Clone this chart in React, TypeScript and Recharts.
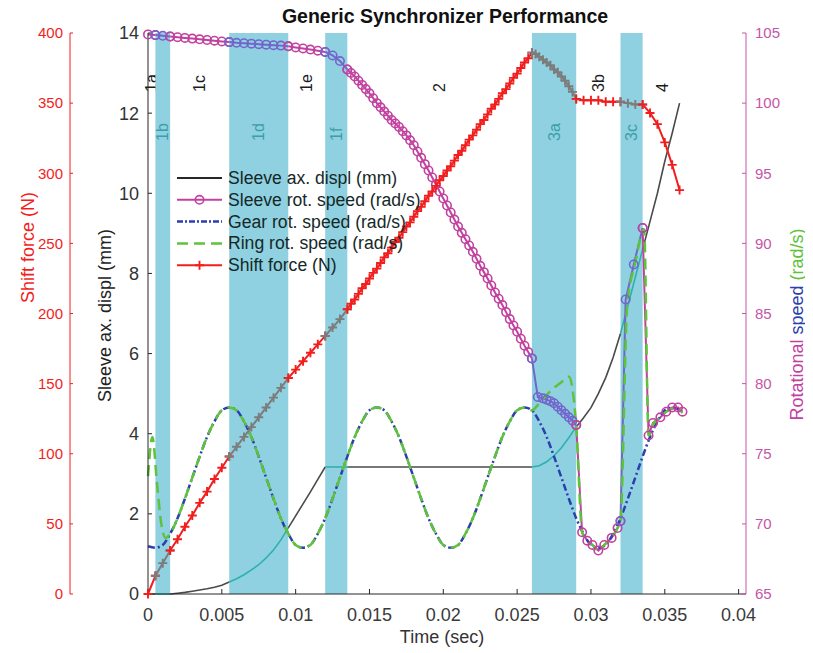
import { LineChart, Line, XAxis, YAxis, ReferenceArea, Legend } from 'recharts';

type Pt = [number, number];

// phases of the shift event; edges in seconds
const phaseNames = ['1a', '1b', '1c', '1d', '1e', '1f', '2', '3a', '3b', '3c', '4'];
const phaseEdges = [0, 0.0005, 0.0015, 0.0055, 0.0095, 0.012, 0.0135, 0.026, 0.029, 0.032, 0.0335, 0.0362];
const shadedPhases = ['1b', '1d', '1f', '3a', '3c'];

const timeTicks = [0, 0.005, 0.01, 0.015, 0.02, 0.025, 0.03, 0.035, 0.04];
const displTicks = [0, 2, 4, 6, 8, 10, 12, 14];
const forceTicks = [0, 50, 100, 150, 200, 250, 300, 350, 400];
const speedTicks = [65, 70, 75, 80, 85, 90, 95, 100, 105];

const seriesNames = [
    'Sleeve ax. displ (mm)',
    'Sleeve rot. speed (rad/s)',
    'Gear rot. speed (rad/s)',
    'Ring rot. speed (rad/s)',
    'Shift force (N)',
];

// [time (s), displacement (mm)]
const sleeveDispl: Pt[] = [
    [0, 0], [0.0005, 0], [0.001, 0], [0.0015, 0], [0.002, 0.02], [0.0025, 0.04], [0.003, 0.07],
    [0.0035, 0.1], [0.004, 0.13], [0.0045, 0.17], [0.005, 0.22], [0.0055, 0.3], [0.006, 0.38],
    [0.0065, 0.48], [0.007, 0.6], [0.0075, 0.73], [0.008, 0.9], [0.0085, 1.1], [0.009, 1.35],
    [0.0095, 1.65], [0.01, 1.95], [0.0105, 2.25], [0.011, 2.55], [0.0115, 2.86], [0.012, 3.17],
    [0.0135, 3.17], [0.026, 3.17], [0.0265, 3.2], [0.027, 3.3], [0.0275, 3.45], [0.028, 3.65],
    [0.0285, 3.9], [0.029, 4.17], [0.0295, 4.4], [0.03, 4.65], [0.0305, 5.0], [0.031, 5.4],
    [0.0315, 5.9], [0.032, 6.5], [0.0325, 7.2], [0.033, 7.9], [0.0335, 8.6], [0.034, 9.3],
    [0.0345, 10.0], [0.035, 10.8], [0.0355, 11.5], [0.036, 12.25],
];

// [time (s), rad/s]
const sleeveSpeed: Pt[] = [
    [0, 104.9], [0.0005, 104.85], [0.001, 104.8], [0.0015, 104.75], [0.002, 104.7], [0.0025, 104.65],
    [0.003, 104.6], [0.0035, 104.55], [0.004, 104.5], [0.0045, 104.45], [0.005, 104.4], [0.0055, 104.35],
    [0.006, 104.3], [0.0065, 104.27], [0.007, 104.24], [0.0075, 104.2], [0.008, 104.17], [0.0085, 104.13],
    [0.009, 104.1], [0.0095, 104.05], [0.01, 103.97], [0.0105, 103.9], [0.011, 103.82], [0.0115, 103.74],
    [0.012, 103.65], [0.0125, 103.4], [0.013, 103.0], [0.0135, 102.4],
    [0.01375, 102.15], [0.014, 101.9], [0.01425, 101.6], [0.0145, 101.3], [0.01475, 101.0], [0.015, 100.7],
    [0.01525, 100.35], [0.0155, 100.0], [0.01575, 99.7], [0.016, 99.4], [0.01625, 99.1], [0.0165, 98.8],
    [0.01675, 98.55], [0.017, 98.3], [0.01725, 98.0], [0.0175, 97.7], [0.01775, 97.35], [0.018, 97.0],
    [0.01825, 96.55], [0.0185, 96.1], [0.01875, 95.65], [0.019, 95.2], [0.01925, 94.7], [0.0195, 94.2],
    [0.01975, 93.7], [0.02, 93.2], [0.02025, 92.7], [0.0205, 92.2], [0.02075, 91.7], [0.021, 91.2],
    [0.02125, 90.75], [0.0215, 90.3], [0.02175, 89.85], [0.022, 89.4], [0.02225, 88.9], [0.0225, 88.4],
    [0.02275, 87.95], [0.023, 87.5], [0.02325, 87.0], [0.0235, 86.5], [0.02375, 86.05], [0.024, 85.6],
    [0.02425, 85.1], [0.0245, 84.6], [0.02475, 84.15], [0.025, 83.7], [0.02525, 83.2], [0.0255, 82.7],
    [0.02575, 82.25], [0.026, 81.8],
    [0.0264, 79.05], [0.02675, 78.95], [0.027, 78.85], [0.02725, 78.75], [0.0275, 78.6], [0.02775, 78.35],
    [0.028, 78.1], [0.02825, 77.85], [0.0285, 77.6], [0.02875, 77.35], [0.029, 77.05],
    [0.0294, 69.4], [0.02975, 68.8], [0.0301, 68.5], [0.0305, 68.1], [0.0309, 68.5], [0.0314, 69.0],
    [0.0318, 69.7], [0.032, 70.2], [0.03235, 86.0], [0.0329, 88.5], [0.0335, 91.1],
    [0.0339, 76.3], [0.0342, 77.2], [0.0347, 77.6], [0.0351, 78.0], [0.0355, 78.3], [0.0359, 78.3],
    [0.0362, 78.0],
];

const gearSpeed: Pt[] = [
    [0, 68.4], [0.0005, 68.3], [0.001, 68.5], [0.0015, 69.3], [0.002, 70.4], [0.0025, 71.8], [0.003, 73.3],
    [0.0035, 74.8], [0.004, 76.2], [0.0045, 77.3], [0.005, 78.1], [0.0055, 78.3], [0.006, 78.1],
    [0.0065, 77.3], [0.007, 76.2], [0.0075, 74.8], [0.008, 73.3], [0.0085, 71.8], [0.009, 70.4],
    [0.0095, 69.3], [0.01, 68.5], [0.0105, 68.3], [0.011, 68.5], [0.0115, 69.3], [0.012, 70.4],
    [0.0125, 71.8], [0.013, 73.3], [0.0135, 74.8], [0.014, 76.2], [0.0145, 77.3], [0.015, 78.1],
    [0.0155, 78.3], [0.016, 78.1], [0.0165, 77.3], [0.017, 76.2], [0.0175, 74.8], [0.018, 73.3],
    [0.0185, 71.8], [0.019, 70.4], [0.0195, 69.3], [0.02, 68.5], [0.0205, 68.3], [0.021, 68.5],
    [0.0215, 69.3], [0.022, 70.4], [0.0225, 71.8], [0.023, 73.3], [0.0235, 74.8], [0.024, 76.2],
    [0.0245, 77.3], [0.025, 78.1], [0.0255, 78.3], [0.026, 78.1], [0.0265, 77.3], [0.027, 76.2],
    [0.0275, 74.8], [0.028, 73.3], [0.0285, 71.8], [0.029, 70.4], [0.0295, 69.3], [0.03, 68.5],
    [0.0305, 68.3], [0.031, 68.5], [0.0315, 69.3], [0.032, 70.4], [0.0325, 71.8], [0.033, 73.3],
    [0.0335, 74.8], [0.034, 76.2], [0.0345, 77.3], [0.035, 78.1], [0.0355, 78.3], [0.036, 78.1],
];

const ringSpeed: Pt[] = [
    [0, 73.4], [0.0003, 76.2], [0.0006, 73.0], [0.0009, 70.0], [0.0012, 69.0], [0.0015, 69.3],
    [0.002, 70.4], [0.0025, 71.8], [0.003, 73.3], [0.0035, 74.8], [0.004, 76.2], [0.0045, 77.3],
    [0.005, 78.1], [0.0055, 78.3], [0.006, 78.1], [0.0065, 77.3], [0.007, 76.2], [0.0075, 74.8],
    [0.008, 73.3], [0.0085, 71.8], [0.009, 70.4], [0.0095, 69.3], [0.01, 68.5], [0.0105, 68.3],
    [0.011, 68.5], [0.0115, 69.3], [0.012, 70.4], [0.0125, 71.8], [0.013, 73.3], [0.0135, 74.8],
    [0.014, 76.2], [0.0145, 77.3], [0.015, 78.1], [0.0155, 78.3], [0.016, 78.1], [0.0165, 77.3],
    [0.017, 76.2], [0.0175, 74.8], [0.018, 73.3], [0.0185, 71.8], [0.019, 70.4], [0.0195, 69.3],
    [0.02, 68.5], [0.0205, 68.3], [0.021, 68.5], [0.0215, 69.3], [0.022, 70.4], [0.0225, 71.8],
    [0.023, 73.3], [0.0235, 74.8], [0.024, 76.2], [0.0245, 77.3], [0.025, 78.1], [0.0255, 78.3],
    [0.026, 78.1], [0.0265, 78.6], [0.027, 79.2], [0.0275, 79.7], [0.028, 80.1], [0.0285, 80.5],
    [0.029, 77.0], [0.0294, 69.4], [0.02975, 68.8], [0.0301, 68.5], [0.0305, 68.1], [0.0309, 68.5],
    [0.0314, 69.0], [0.0318, 69.7], [0.032, 70.2], [0.03245, 85.5], [0.033, 88.6], [0.0336, 91.0],
    [0.0339, 76.3], [0.0342, 77.1], [0.0347, 77.6], [0.0351, 78.0], [0.0355, 78.2], [0.0359, 78.2],
    [0.0362, 77.9],
];

// [time (s), N]
const shiftForce: Pt[] = [
    [0, 0], [0.0005, 13], [0.001, 22], [0.0015, 31], [0.002, 39], [0.0025, 48], [0.003, 56],
    [0.0035, 65], [0.004, 73], [0.0045, 82], [0.005, 90], [0.0055, 98], [0.006, 105], [0.0065, 112],
    [0.007, 119], [0.0075, 126], [0.008, 133], [0.0085, 140], [0.009, 147], [0.0095, 154],
    [0.01, 160], [0.0105, 166], [0.011, 172], [0.0115, 178], [0.012, 184], [0.0125, 190],
    [0.013, 196], [0.0135, 203],
    [0.01375, 207], [0.014, 210], [0.01425, 214], [0.0145, 218], [0.01475, 221], [0.015, 225],
    [0.01525, 229], [0.0155, 232], [0.01575, 236], [0.016, 240], [0.01625, 243], [0.0165, 247],
    [0.01675, 251], [0.017, 254], [0.01725, 258], [0.0175, 262], [0.01775, 265], [0.018, 269],
    [0.01825, 273], [0.0185, 276], [0.01875, 280], [0.019, 284], [0.01925, 287], [0.0195, 291],
    [0.01975, 295], [0.02, 298], [0.02025, 302], [0.0205, 305], [0.02075, 309], [0.021, 313],
    [0.02125, 316], [0.0215, 320], [0.02175, 324], [0.022, 327], [0.02225, 331], [0.0225, 335],
    [0.02275, 338], [0.023, 342], [0.02325, 346], [0.0235, 349], [0.02375, 353], [0.024, 357],
    [0.02425, 360], [0.0245, 364], [0.02475, 368], [0.025, 371], [0.02525, 375], [0.0255, 379],
    [0.02575, 382], [0.026, 386],
    [0.02625, 385], [0.0265, 383], [0.02675, 381], [0.027, 379], [0.02725, 377], [0.0275, 374],
    [0.02775, 372], [0.028, 369], [0.02825, 366], [0.0285, 362], [0.02875, 358], [0.029, 353],
    [0.0295, 352], [0.03, 352], [0.0305, 352], [0.031, 351], [0.0315, 351], [0.032, 351],
    [0.0325, 350], [0.033, 349], [0.0335, 349], [0.034, 343], [0.0345, 335], [0.035, 322],
    [0.0355, 306], [0.036, 288],
];

const shade = '#8fd1e0';
const displColor = '#4a4a4a';
const displShaded = '#2fb0b0';
const sleeveColor = '#c2419f';
const sleeveShaded = '#7266cc';
const gearColor = '#2b3fae';
const ringColor = '#5fc23c';
const forceColor = '#f21d1d';
const forceShaded = '#7c7c7c';
const axisInk = '#262626';
const speedAxis = '#c455a8';

const phases = phaseNames.map((name, i) => ({
    name,
    start: phaseEdges[i],
    end: phaseEdges[i + 1],
    shaded: shadedPhases.includes(name),
}));

// cut a series at the phase edges so each piece can take its phase colour
const bySegment = (points: Pt[]) =>
    phases
        .map((p) => ({
            ...p,
            rows: points.filter(([t]) => t >= p.start && t <= p.end).map(([t, v]) => ({ t, v })),
        }))
        .filter((s) => s.rows.length > 1);

const plusDot = (color: string) => (props: any) => {
    const { cx, cy } = props;
    if (cx == null || cy == null) return <g />;
    return <path d={`M${cx - 4.5},${cy}h9M${cx},${cy - 4.5}v9`} stroke={color} strokeWidth={1.9} fill="none" />;
};

const PhaseLabel = (props: any) => {
    const { viewBox, text, shaded } = props;
    if (!viewBox) return null;
    const x = viewBox.x + viewBox.width / 2;
    const y = viewBox.y + (shaded ? 108 : 59);
    return (
        <text x={x} y={y} transform={`rotate(-90 ${x} ${y})`} fontSize={16}
            fill={shaded ? '#3aa0a8' : '#1c1c1c'} dominantBaseline="central">
            {text}
        </text>
    );
};

const VerticalTitle = (props: any) => {
    const { viewBox, dx, dy, children } = props;
    if (!viewBox) return null;
    const x = viewBox.x + dx;
    const y = viewBox.y + viewBox.height / 2 + dy;
    return (
        <text x={x} y={y} transform={`rotate(-90 ${x} ${y})`} textAnchor="middle" dominantBaseline="central" fontSize={18}>
            {children}
        </text>
    );
};

const TimeTitle = (props: any) => {
    const { viewBox } = props;
    if (!viewBox) return null;
    return (
        <text x={viewBox.x + viewBox.width / 2 - 5} y={viewBox.y + 43} textAnchor="middle"
            dominantBaseline="central" fontSize={18} fill="#333">
            Time (sec)
        </text>
    );
};

const legendIcon = (i: number, y: number) => {
    switch (i) {
        case 0:
            return <line x1={9} x2={54} y1={y} y2={y} stroke={axisInk} strokeWidth={2} />;
        case 1:
            return (
                <g>
                    <line x1={9} x2={54} y1={y} y2={y} stroke={sleeveColor} strokeWidth={2} />
                    <circle cx={31.5} cy={y} r={4.2} stroke={sleeveColor} strokeWidth={1.6} fill="none" />
                </g>
            );
        case 2:
            return <line x1={9} x2={54} y1={y} y2={y} stroke={gearColor} strokeWidth={2.5} strokeDasharray="6 2 2 2" />;
        case 3:
            return <line x1={9} x2={54} y1={y} y2={y} stroke={ringColor} strokeWidth={2.5} strokeDasharray="11 6" />;
        default:
            return (
                <g>
                    <line x1={9} x2={54} y1={y} y2={y} stroke={forceColor} strokeWidth={2} />
                    <path d={`M27,${y}h9M31.5,${y - 4.5}v9`} stroke={forceColor} strokeWidth={1.9} />
                </g>
            );
    }
};

const LegendBox = () => (
    <svg width={280} height={115}>
        {seriesNames.map((name, i) => {
            const y = 12 + i * 21.8;
            return (
                <g key={name}>
                    {legendIcon(i, y)}
                    <text x={60} y={y} dominantBaseline="central" fontSize={17.6} fill="#152828">
                        {name}
                    </text>
                </g>
            );
        })}
    </svg>
);

export default function App() {
    return (
        <div style={{ position: 'relative', width: 805, height: 645, fontFamily: '"Liberation Sans", Arial, sans-serif' }}>
            <div style={{
                position: 'absolute', left: 437, top: -3, transform: 'translateX(-50%)', whiteSpace: 'nowrap',
                fontWeight: 'bold', fontSize: 19.5, lineHeight: '22px', color: '#111', zIndex: 2,
            }}>
                Generic Synchronizer Performance
            </div>
            <LineChart width={805} height={645} margin={{ top: 25, right: 0, bottom: 0, left: 0 }}>
                <XAxis type="number" dataKey="t" domain={[0, 0.0405]} ticks={timeTicks} height={59}
                    stroke={axisInk} tickSize={-5} tickMargin={19} tick={{ fontSize: 18, fill: '#3a3a3a' }}
                    label={<TimeTitle />} />
                {/* left axes are stacked by id: "a-displ" sits next to the plot, "b-force" outside it */}
                <YAxis yAxisId="a-displ" orientation="left" width={78} domain={[0, 14]} ticks={displTicks}
                    stroke={axisInk} tickSize={-4} tickMargin={13} tick={{ fontSize: 18, fill: '#333' }}
                    label={<VerticalTitle dx={35} dy={2}><tspan fill="#222">Sleeve ax. displ (mm)</tspan></VerticalTitle>} />
                <YAxis yAxisId="b-force" orientation="left" width={62} domain={[0, 400]} ticks={forceTicks}
                    stroke={forceColor} tickSize={-3} tickMargin={10} tick={{ fontSize: 15, fill: forceColor }}
                    label={<VerticalTitle dx={20} dy={-66}><tspan fill={forceColor}>Shift force (N)</tspan></VerticalTitle>} />
                <YAxis yAxisId="speed" orientation="right" width={67} domain={[65, 105]} ticks={speedTicks}
                    stroke={speedAxis} tickSize={-4} tickMargin={13} tick={{ fontSize: 15, fill: speedAxis }}
                    label={
                        <VerticalTitle dx={51} dy={11}>
                            <tspan fill={sleeveColor}>Rotational</tspan>{' '}
                            <tspan fill={gearColor}>speed</tspan>{' '}
                            <tspan fill={ringColor}>(rad/s)</tspan>
                        </VerticalTitle>
                    } />

                {phases.map((p) => (
                    <ReferenceArea key={p.name} yAxisId="a-displ" x1={p.start} x2={p.end}
                        fill={shade} fillOpacity={p.shaded ? 1 : 0} stroke="none"
                        label={<PhaseLabel text={p.name} shaded={p.shaded} />} />
                ))}

                {bySegment(sleeveDispl).map((s) => (
                    <Line key={'d' + s.name} yAxisId="a-displ" data={s.rows} dataKey="v"
                        stroke={s.shaded ? displShaded : displColor} strokeWidth={1.6}
                        dot={false} legendType="none" isAnimationActive={false} />
                ))}
                {bySegment(sleeveSpeed).map((s) => {
                    const c = s.shaded ? sleeveShaded : sleeveColor;
                    return (
                        <Line key={'s' + s.name} yAxisId="speed" data={s.rows} dataKey="v" stroke={c} strokeWidth={2}
                            dot={{ r: 4.2, stroke: c, strokeWidth: 1.6, fill: 'none' }}
                            legendType="none" isAnimationActive={false} />
                    );
                })}
                <Line yAxisId="speed" type="monotone" data={gearSpeed.map(([t, v]) => ({ t, v }))} dataKey="v"
                    stroke={gearColor} strokeWidth={2.5} strokeDasharray="7 3 2 3" dot={false}
                    legendType="none" isAnimationActive={false} />
                <Line yAxisId="speed" type="monotone" data={ringSpeed.map(([t, v]) => ({ t, v }))} dataKey="v"
                    stroke={ringColor} strokeWidth={2.5} strokeDasharray="11 6" dot={false}
                    legendType="none" isAnimationActive={false} />
                {bySegment(shiftForce).map((s) => {
                    const c = s.shaded ? forceShaded : forceColor;
                    return (
                        <Line key={'f' + s.name} yAxisId="b-force" data={s.rows} dataKey="v" stroke={c} strokeWidth={2}
                            dot={plusDot(c)} legendType="none" isAnimationActive={false} />
                    );
                })}

                <Legend layout="vertical" align="center" verticalAlign="middle" content={<LegendBox />}
                    wrapperStyle={{ left: 160, top: 158, width: 280, height: 115 }} />
            </LineChart>
        </div>
    );
}
